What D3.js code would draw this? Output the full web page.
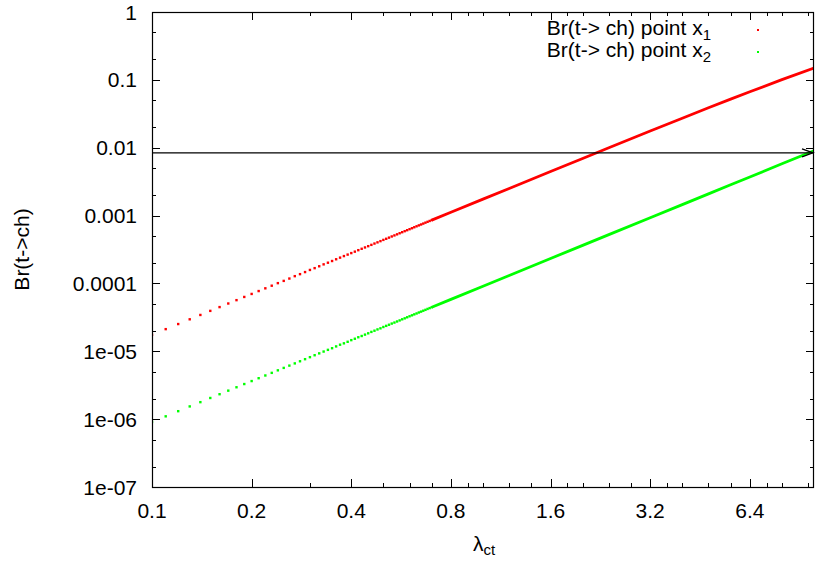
<!DOCTYPE html>
<html>
<head>
<meta charset="utf-8">
<script src="https://cdn.jsdelivr.net/npm/d3@7"></script>
<style>
  html, body { margin: 0; padding: 0; background: #ffffff; }
  svg text { font-family: "Liberation Sans", Arial, Helvetica, sans-serif; fill: #000; }
</style>
</head>
<body>
<div id="chart"></div>
<script>
// Br(t -> ch) against lambda_ct for two benchmark points, log-log (gnuplot look)

// sparse part of the scan, where single dots are visible (lambda step 0.01)
const lambdaDots = [
  0.10, 0.11, 0.12, 0.13, 0.14, 0.15, 0.16, 0.17, 0.18, 0.19,
  0.20, 0.21, 0.22, 0.23, 0.24, 0.25, 0.26, 0.27, 0.28, 0.29,
  0.30, 0.31, 0.32, 0.33, 0.34, 0.35, 0.36, 0.37, 0.38, 0.39,
  0.40, 0.41, 0.42, 0.43, 0.44, 0.45, 0.46, 0.47, 0.48, 0.49,
  0.50, 0.51, 0.52, 0.53, 0.54, 0.55, 0.56, 0.57, 0.58, 0.59,
  0.60, 0.61, 0.62, 0.63, 0.64, 0.65, 0.66, 0.67, 0.68, 0.69, 0.70
];
const brX1Dots = [
  1.75e-5, 2.12e-5, 2.52e-5, 2.96e-5, 3.43e-5, 3.94e-5, 4.48e-5, 5.06e-5, 5.67e-5, 6.32e-5,
  7.00e-5, 7.72e-5, 8.47e-5, 9.26e-5, 1.01e-4, 1.09e-4, 1.18e-4, 1.28e-4, 1.37e-4, 1.47e-4,
  1.58e-4, 1.68e-4, 1.79e-4, 1.91e-4, 2.02e-4, 2.14e-4, 2.27e-4, 2.40e-4, 2.53e-4, 2.66e-4,
  2.80e-4, 2.94e-4, 3.09e-4, 3.24e-4, 3.39e-4, 3.54e-4, 3.70e-4, 3.87e-4, 4.03e-4, 4.20e-4,
  4.38e-4, 4.55e-4, 4.73e-4, 4.92e-4, 5.10e-4, 5.29e-4, 5.49e-4, 5.69e-4, 5.89e-4, 6.09e-4,
  6.30e-4, 6.51e-4, 6.73e-4, 6.95e-4, 7.17e-4, 7.39e-4, 7.62e-4, 7.86e-4, 8.09e-4, 8.33e-4, 8.58e-4
];
const brX2Dots = [
  9.10e-7, 1.10e-6, 1.31e-6, 1.54e-6, 1.78e-6, 2.05e-6, 2.33e-6, 2.63e-6, 2.95e-6, 3.29e-6,
  3.64e-6, 4.01e-6, 4.40e-6, 4.81e-6, 5.24e-6, 5.69e-6, 6.15e-6, 6.63e-6, 7.13e-6, 7.65e-6,
  8.19e-6, 8.75e-6, 9.32e-6, 9.91e-6, 1.05e-5, 1.11e-5, 1.18e-5, 1.25e-5, 1.31e-5, 1.38e-5,
  1.46e-5, 1.53e-5, 1.61e-5, 1.68e-5, 1.76e-5, 1.84e-5, 1.93e-5, 2.01e-5, 2.10e-5, 2.18e-5,
  2.28e-5, 2.37e-5, 2.46e-5, 2.56e-5, 2.65e-5, 2.75e-5, 2.85e-5, 2.96e-5, 3.06e-5, 3.17e-5,
  3.28e-5, 3.39e-5, 3.50e-5, 3.61e-5, 3.73e-5, 3.84e-5, 3.96e-5, 4.08e-5, 4.21e-5, 4.33e-5, 4.46e-5
];

// dense part, where the dots merge into a solid band (read at a few lambdas)
const lambdaBand = [0.7, 0.8, 1.0, 1.2, 1.6, 2.0, 2.4, 3.2, 4.0, 4.8, 5.6, 6.4, 8.0, 10.0];
const brX1Band = [8.58e-4, 1.12e-3, 1.75e-3, 2.51e-3, 4.46e-3, 6.95e-3, 9.98e-3, 1.76e-2, 2.72e-2, 3.88e-2, 5.20e-2, 6.69e-2, 0.1007, 0.149];
const brX2Band = [4.46e-5, 5.82e-5, 9.10e-5, 1.31e-4, 2.33e-4, 3.64e-4, 5.24e-4, 9.31e-4, 1.45e-3, 2.09e-3, 2.85e-3, 3.71e-3, 5.79e-3, 9.02e-3];

// horizontal reference arrow
const arrowBr = 0.0084;
const arrowLambda = [0.1, 10];

// axes
const xTicks = [0.1, 0.2, 0.4, 0.8, 1.6, 3.2, 6.4];
const xMinorTicks = [0.3, 0.5, 0.6, 0.7, 0.9, 1.0, 1.2, 1.4, 1.8, 2.0, 2.4, 2.8, 3.6, 4.0, 4.8, 5.6, 7.2, 8.0, 9.6];
const yTicks = [1, 0.1, 0.01, 0.001, 0.0001, 1e-5, 1e-6, 1e-7];
const yTickLabels = ["1", "0.1", "0.01", "0.001", "0.0001", "1e-05", "1e-06", "1e-07"];
const yMinorTicks = [5e-7, 2e-7, 5e-6, 2e-6, 5e-5, 2e-5, 5e-4, 2e-4, 5e-3, 2e-3, 0.05, 0.02, 0.5, 0.2];

const seriesNames = ["Br(t-> ch) point x", "Br(t-> ch) point x"];
const seriesSubs = ["1", "2"];
const seriesColors = ["#ff0000", "#00ff00"];

const width = 815;
const height = 561;
const plot = { left: 152, right: 814, top: 12, bottom: 487 };

const svg = d3.select("#chart")
  .append("svg")
  .attr("width", width)
  .attr("height", height);

const xScale = d3.scaleLog()
  .base(2)
  .domain([0.1, 10])
  .range([plot.left, plot.right]);

const yScale = d3.scaleLog()
  .domain([1e-7, 1])
  .range([plot.bottom, plot.top]);

svg.append("defs")
  .append("clipPath")
  .attr("id", "plot-clip")
  .append("rect")
  .attr("x", plot.left)
  .attr("y", plot.top)
  .attr("width", plot.right - plot.left)
  .attr("height", plot.bottom - plot.top);

// ticks (gnuplot style: inward, mirrored on top and right)
const majorLen = 8;
const minorLen = 4;
const tickG = svg.append("g")
  .attr("stroke", "#000")
  .attr("stroke-width", 1);

xTicks.concat(xMinorTicks).forEach(v => {
  const len = xTicks.includes(v) ? majorLen : minorLen;
  const x = Math.round(xScale(v)) + 0.5;
  tickG.append("line").attr("x1", x).attr("x2", x).attr("y1", plot.bottom).attr("y2", plot.bottom - len);
  tickG.append("line").attr("x1", x).attr("x2", x).attr("y1", plot.top).attr("y2", plot.top + len);
});

yTicks.concat(yMinorTicks).forEach(v => {
  const len = yTicks.includes(v) ? majorLen : minorLen;
  const y = Math.round(yScale(v)) + 0.5;
  tickG.append("line").attr("x1", plot.left).attr("x2", plot.left + len).attr("y1", y).attr("y2", y);
  tickG.append("line").attr("x1", plot.right).attr("x2", plot.right - len).attr("y1", y).attr("y2", y);
});

// tick labels
svg.append("g")
  .selectAll("text")
  .data(xTicks)
  .enter()
  .append("text")
  .attr("x", d => xScale(d))
  .attr("y", 518)
  .attr("text-anchor", "middle")
  .style("font-size", "21px")
  .text(d => d);

svg.append("g")
  .selectAll("text")
  .data(yTicks)
  .enter()
  .append("text")
  .attr("x", 137)
  .attr("y", d => yScale(d))
  .attr("dy", "0.36em")
  .attr("text-anchor", "end")
  .style("font-size", "21px")
  .text((d, i) => yTickLabels[i]);

// axis titles
svg.append("text")
  .attr("transform", `translate(29,${(plot.top + plot.bottom) / 2}) rotate(-90)`)
  .attr("text-anchor", "middle")
  .style("font-size", "21px")
  .text("Br(t->ch)");

const xTitle = svg.append("text")
  .attr("x", (plot.left + plot.right) / 2 + 1)
  .attr("y", 551)
  .attr("text-anchor", "middle")
  .style("font-size", "21px");
xTitle.append("tspan").text("λ");
xTitle.append("tspan").attr("dy", 4).style("font-size", "15px").text("ct");

// data: dense band first, then the single dots
const dataG = svg.append("g").attr("clip-path", "url(#plot-clip)");

const band = d3.line()
  .x(d => xScale(d[0]))
  .y(d => yScale(d[1]));

[brX1Band, brX2Band].forEach((vals, s) => {
  dataG.append("path")
    .datum(lambdaBand.map((l, i) => [l, vals[i]]))
    .attr("d", band)
    .attr("fill", "none")
    .attr("stroke", seriesColors[s])
    .attr("stroke-width", 2.8);
});

[brX1Dots, brX2Dots].forEach((vals, s) => {
  dataG.append("g")
    .selectAll("rect")
    .data(lambdaDots.map((l, i) => [l, vals[i]]))
    .enter()
    .append("rect")
    .attr("x", d => xScale(d[0]) - 1.2)
    .attr("y", d => yScale(d[1]) - 1.2)
    .attr("width", 2.4)
    .attr("height", 2.4)
    .attr("fill", seriesColors[s]);
});

// reference arrow at Br = 0.0084
const ay = yScale(arrowBr);
const ax1 = xScale(arrowLambda[0]);
const ax2 = xScale(arrowLambda[1]) - 1;
svg.append("line")
  .attr("x1", ax1).attr("x2", ax2)
  .attr("y1", ay).attr("y2", ay)
  .attr("stroke", "#000")
  .attr("stroke-width", 1.1);
svg.append("path")
  .attr("d", `M${ax2 - 11},${ay - 4} L${ax2},${ay} L${ax2 - 11},${ay + 4}`)
  .attr("fill", "none")
  .attr("stroke", "#000")
  .attr("stroke-width", 1.3);

// border
svg.append("rect")
  .attr("x", plot.left + 0.5)
  .attr("y", plot.top + 0.5)
  .attr("width", plot.right - plot.left - 1)
  .attr("height", plot.bottom - plot.top)
  .attr("fill", "none")
  .attr("stroke", "#000")
  .attr("stroke-width", 1.2);

// legend
seriesNames.forEach((name, i) => {
  const ly = 35 + i * 22;
  const t = svg.append("text")
    .attr("x", 711)
    .attr("y", ly)
    .attr("text-anchor", "end")
    .style("font-size", "21px");
  t.append("tspan").text(name);
  t.append("tspan").attr("dy", 5).style("font-size", "15px").text(seriesSubs[i]);

  svg.append("rect")
    .attr("x", 757)
    .attr("y", ly - 6)
    .attr("width", 2)
    .attr("height", 2)
    .attr("fill", seriesColors[i]);
});
</script>
</body>
</html>
